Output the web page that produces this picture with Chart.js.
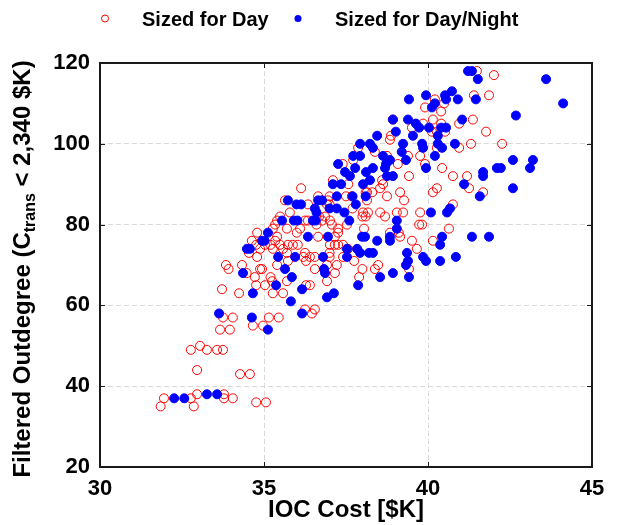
<!DOCTYPE html>
<html lang="en">
<head>
<meta charset="UTF-8">
<title>Filtered Outdegree vs IOC Cost</title>
<script src="https://cdn.jsdelivr.net/npm/chart.js"></script>
<style>
  html,body{margin:0;padding:0;background:#fff}
  #wrap{width:630px;height:525px}
</style>
</head>
<body>
<div id="wrap"><canvas id="chart" width="630" height="525"></canvas></div>
<script>
// [IOC cost $K, filtered outdegree]
const sizedForDay=[
  [31.85,35],[31.95,37],[32.77,37],[32.86,35],[32.96,38],[33.78,38],[33.78,37],[34.05,37],[34.76,36],[35.06,36],
  [32.96,44],[34.27,43],[34.57,43],
  [32.77,49],[33.05,50],[33.26,49],[33.57,49],[33.75,49],
  [33.66,54],[33.96,54],[34.66,55],[34.97,55],
  [33.75,57],[34.05,57],[35.15,57],[35.45,57],
  [36.25,59],[36.55,59],[36.46,58],
  [33.72,64],[34.24,63],[34.76,65],[35.03,65],[35.27,63],[35.58,63],[36.28,65],[36.4,65],
  [33.84,70],[33.92,69],[34.33,70],[34.47,68],[34.72,67],[34.88,69],[34.94,69],[35.2,67],[35.25,66],[35.7,66],[35.4,70],
  [34.54,73],[34.79,72],[34.76,75],[34.63,76],[34.79,78],[34.88,74],
  [35.27,74],[35.58,74],[35.7,73],[35.73,71],[36.2,72],[36.28,71],[36.4,72],[36.55,72],[36.25,73],[37.0,73],[37.0,72],
  [37.22,70],[36.92,70],[36.55,69],[37.16,68],[37.41,72],[37.75,71],
  [38.0,69],[37.9,67],[38.38,69],[38.48,70],[36.92,66],[39.42,69],[39.66,74],
  [35.03,75],[35.2,75],[35.34,76],[35.49,75],[35.73,75],[35.88,75],[36.03,75],[37.01,75],[37.16,75],[37.26,75],[37.41,75],[37.56,74],
  [35.4,77],[36.65,77],[37.16,77],[36.0,78],[37.26,78],
  [35.27,79],[35.4,81],[35.34,80],[35.7,79],[36.1,79],[36.6,80],[37.07,80],[37.26,79],[37.53,80],[38.05,79],
  [35.49,82],[35.79,83],[36.25,81],[36.34,81],[36.68,82],[36.77,81],[36.86,82],[37.01,81],[38.0,82],[38.1,82],
  [38.02,83],[38.17,83],[38.54,83],[38.69,82],[39.05,83],[39.24,83],[39.76,83],[39.82,80],[39.73,80],[38.84,78],[39.11,78],
  [39.15,77],[39.51,76],[40.15,76],[40.64,79],
  [35.64,86],[36.13,89],[36.34,85],[36.65,87],[36.92,85],[36.95,86],[37.0,87],[37.0,85],[37.5,87],[37.68,87],[37.7,84],
  [38.1,88],[37.57,90],[37.1,91],
  [38.14,88],[38.3,88],[38.14,86],[38.75,87],[39.15,88],[39.27,86],[38.54,89],[38.6,91],[38.63,90],
  [37.72,96],[37.4,95],[37.87,99],[38.38,98],[38.75,97],[39.08,95],[38.87,102],[38.84,101],[38.93,106],[39.39,97],[39.42,92],
  [39.76,97],[39.91,95],[39.51,104],[39.85,105],[39.91,109],[40.15,106],[40.21,111],[40.27,103],[40.4,108],[40.49,110],
  [40.95,105],[40.4,105],[40.12,103],[40.52,103],[40.27,99],[40.95,99],[41.31,100],[42.26,100],[40.43,94],[40.76,92],
  [41.19,92],[40.27,89],[40.15,88],[41.25,89],[41.68,88],[40.76,85],[41.37,106],[41.77,103],[41.4,112],[41.86,112],
  [41.49,118],[42.01,117]
];
const sizedForDayNight=[
  [32.26,37],[32.57,37],[33.26,38],[33.57,38],[33.63,58],[34.63,57],[35.12,54],[34.66,63],[34.36,68],[34.48,74],
  [34.57,74],[34.94,76],[35.02,76],[35.12,78],[35.37,65],[35.43,72],[35.55,81],[35.64,69],[35.82,61],[35.85,67],
  [35.91,81],[36.02,81],[35.95,72],[35.73,86],[35.99,85],[36.13,85],[36.16,64],[36.16,58],[36.34,77],[36.49,81],
  [36.58,81],[36.55,84],[36.6,83],[36.65,86],[36.77,86],[36.8,72],[36.83,69],[36.86,68],[36.92,62],[36.95,77],
  [37.13,63],[37.0,84],[37.22,84],[37.22,87],[37.1,90],[37.35,90],[37.26,95],[37.45,83],[37.47,93],[37.53,74],
  [37.53,72],[37.6,81],[37.62,92],[37.7,87],[37.72,97],[37.78,94],[37.8,85],[37.84,74],[37.87,65],[37.93,73],
  [37.93,97],[37.93,100],[37.99,77],[38.02,90],[38.08,77],[38.1,87],[38.11,93],[38.2,73],[38.23,91],[38.23,100],
  [38.32,99],[38.32,94],[38.32,73],[38.45,76],[38.45,102],[38.54,67],[38.63,97],[38.69,94],[38.72,95],[38.75,92],
  [38.84,96],[38.84,77],[38.84,76],[38.93,92],[38.93,68],[38.93,106],[39.02,103],[39.05,81],[39.05,79],[39.2,98],
  [39.24,100],[39.33,96],[39.36,73],[39.39,106],[39.39,71],[39.33,70],[39.42,67],[39.42,111],[39.54,102],[39.63,105],
  [39.73,104],[39.82,100],[39.85,99],[39.85,72],[39.94,112],[39.94,94],[39.94,71],[40.03,104],[40.09,83],[40.12,109],
  [40.21,110],[40.21,97],[40.3,100],[40.3,102],[40.37,75],[40.4,104],[40.43,99],[40.43,77],[40.37,71],[40.52,112],
  [40.55,111],[40.55,104],[40.58,83],[40.67,84],[40.73,113],[40.82,100],[40.85,72],[40.91,111],[41.04,106],[41.1,90],
  [41.22,118],[41.34,118],[41.34,77],[41.46,111],[41.52,116],[41.58,87],[41.68,93],[41.68,92],[41.86,77],[42.1,94],
  [42.22,94],[42.59,96],[42.59,89],[42.68,107],[43.11,94],[43.2,96],[43.6,116],[44.12,110]
];
const xTicks=[30,35,40,45];
const yTicks=[20,40,60,80,100,120];
const seriesNames=['Sized for Day','Sized for Day/Night'];

const FONT='"Liberation Sans", Arial, Helvetica, sans-serif';
Chart.defaults.font.family=FONT;
Chart.defaults.color='#000';

const toPoints=arr=>arr.map(p=>({x:p[0],y:p[1]}));

// box, inward ticks, y title with subscript, legend on top
const framePlugin={
  id:'frame',
  afterDraw(chart){
    const {ctx,chartArea:a,scales:{x,y}}=chart;
    ctx.save();
    ctx.strokeStyle='#1a1a1a';
    ctx.lineWidth=1;
    ctx.beginPath();
    xTicks.forEach(v=>{
      const px=Math.round(x.getPixelForValue(v))+0.5;
      ctx.moveTo(px,a.bottom);ctx.lineTo(px,a.bottom-5);
      ctx.moveTo(px,a.top);ctx.lineTo(px,a.top+5);
    });
    yTicks.forEach(v=>{
      const py=Math.round(y.getPixelForValue(v))+0.5;
      ctx.moveTo(a.left,py);ctx.lineTo(a.left+5,py);
      ctx.moveTo(a.right,py);ctx.lineTo(a.right-5,py);
    });
    ctx.stroke();
    ctx.lineWidth=2;
    ctx.strokeRect(a.left,a.top,a.right-a.left,a.bottom-a.top);

    // y axis title
    const main='bold 24px '+FONT, sub='bold 16px '+FONT;
    const t1='Filtered Outdegree (C', ts='trans', t2=' < 2,340 $K)';
    ctx.font=main; const w1=ctx.measureText(t1).width, w2=ctx.measureText(t2).width;
    ctx.font=sub; const ws=ctx.measureText(ts).width;
    ctx.translate(22,(a.top+a.bottom)/2+4);
    ctx.rotate(-Math.PI/2);
    ctx.fillStyle='#000';
    ctx.textBaseline='alphabetic';
    let sx=-(w1+ws+w2)/2;
    ctx.font=main; ctx.fillText(t1,sx,8); sx+=w1;
    ctx.font=sub; ctx.fillText(ts,sx,13); sx+=ws;
    ctx.font=main; ctx.fillText(t2,sx,8);
    ctx.restore();

    // legend
    ctx.save();
    ctx.font='bold 20px '+FONT;
    ctx.fillStyle='#000';
    ctx.textBaseline='alphabetic';
    ctx.fillText(seriesNames[0],142,26);
    ctx.fillText(seriesNames[1],335,26);
    ctx.beginPath();ctx.arc(105,18.5,3.5,0,Math.PI*2);
    ctx.strokeStyle='#ff0000';ctx.lineWidth=1;ctx.stroke();
    ctx.beginPath();ctx.arc(298,18.5,3.5,0,Math.PI*2);
    ctx.fillStyle='#0000ff';ctx.fill();
    ctx.restore();
  }
};

new Chart(document.getElementById('chart'),{
  type:'scatter',
  data:{
    datasets:[
      {label:seriesNames[0],data:toPoints(sizedForDay),order:1,
       pointStyle:'circle',pointRadius:4.5,pointBorderWidth:1,
       pointBorderColor:'#ff0000',pointBackgroundColor:'rgba(0,0,0,0)'},
      {label:seriesNames[1],data:toPoints(sizedForDayNight),order:0,
       pointStyle:'circle',pointRadius:4.5,pointBorderWidth:1,
       pointBorderColor:'#0000ff',pointBackgroundColor:'#0000ff'}
    ]
  },
  options:{
    responsive:false,
    animation:false,
    events:[],
    layout:{padding:{left:0,right:38,top:63,bottom:0}},
    plugins:{legend:{display:false},tooltip:{enabled:false}},
    scales:{
      x:{
        type:'linear',min:30,max:45,
        afterBuildTicks:s=>{s.ticks=xTicks.map(v=>({value:v}));},
        afterFit:s=>{s.height=58;},
        ticks:{font:{size:22,weight:'bold'},padding:9,color:'#000'},
        grid:{color:'#d8d8d8',lineWidth:1,drawTicks:false},
        border:{display:false,dash:[5,3]},
        title:{display:true,text:'IOC Cost [$K]',font:{size:24,weight:'bold'},padding:{top:0,bottom:0},color:'#000'}
      },
      y:{
        type:'linear',min:20,max:120,
        afterBuildTicks:s=>{s.ticks=yTicks.map(v=>({value:v}));},
        afterFit:s=>{s.width=100;},
        ticks:{font:{size:22,weight:'bold'},padding:10,color:'#000'},
        grid:{color:'#d8d8d8',lineWidth:1,drawTicks:false},
        border:{display:false,dash:[5,3]}
      }
    }
  },
  plugins:[framePlugin]
});
</script>
</body>
</html>
